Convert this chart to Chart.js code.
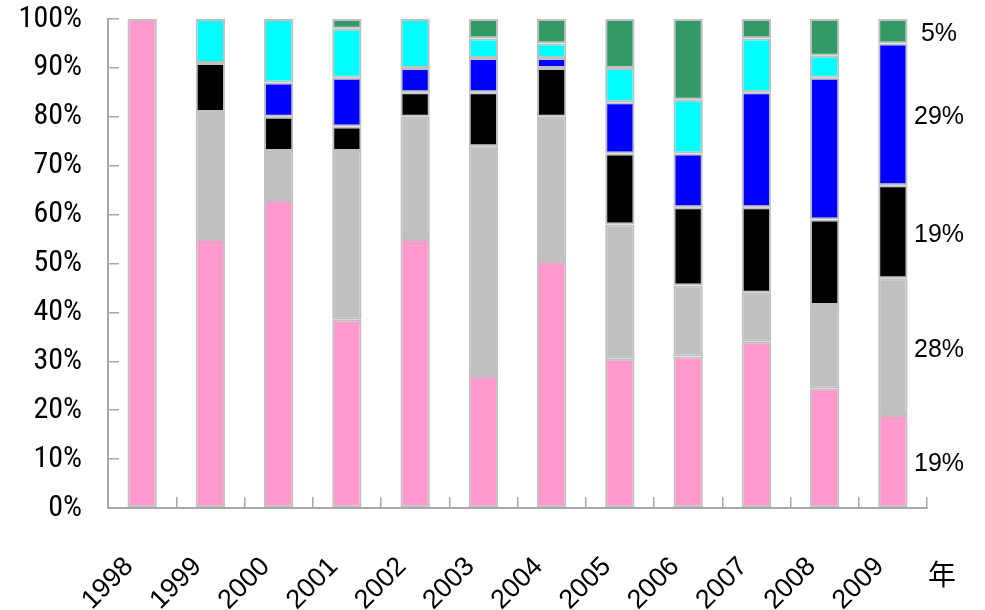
<!DOCTYPE html>
<html>
<head>
<meta charset="utf-8">
<script src="https://cdn.jsdelivr.net/npm/chart.js@4/dist/chart.umd.min.js"></script>
<style>
  html, body { margin: 0; padding: 0; background: #ffffff; }
  #wrap { width: 985px; height: 610px; }
</style>
</head>
<body>
<div id="wrap"><canvas id="c" width="985" height="610"></canvas></div>
<script>
// Years on the category axis
const years = ['1998','1999','2000','2001','2002','2003','2004','2005','2006','2007','2008','2009'];

// Share of each group per year (percent, stacked bottom to top)
const pinkShare  = [100, 55, 63, 38.5, 55, 27, 50.5, 30.5, 31, 34, 24.5, 19];
const grayShare  = [0,   26, 10, 34.5, 25, 47, 29.5, 27.5, 14.5, 10, 17, 28];
const blackShare = [0,   10, 7,  5,    5,  11, 10,   14.5, 16, 17.5, 17.5, 19];
const blueShare  = [0,   0,  7,  10,   5,  7,  2,    10.5, 11, 23.5, 29, 29];
const cyanShare  = [0,   9,  13, 10,   10, 4,  3,    7,    11, 11, 4.5, 0];
const greenShare = [0,   0,  0,  2,    0,  4,  5,    10,   16.5, 4, 7.5, 5];

// Percent axis ticks
const percentTicks = [0, 10, 20, 30, 40, 50, 60, 70, 80, 90, 100];

const unitLabel = '年';

const series = [
  { values: pinkShare,  color: '#ff99cc' },
  { values: grayShare,  color: '#c0c0c0' },
  { values: blackShare, color: '#000000' },
  { values: blueShare,  color: '#0000ff' },
  { values: cyanShare,  color: '#00ffff' },
  { values: greenShare, color: '#339966' }
];

const axisGray = '#a8a8a8';

// Writes the final year's shares beside its bar, plus the unit under the axis
const sideLabels = {
  id: 'sideLabels',
  afterDraw(chart) {
    const ctx = chart.ctx;
    const area = chart.chartArea;
    const last = years.length - 1;
    ctx.save();
    ctx.fillStyle = '#000000';
    ctx.font = '25px "Liberation Sans", Arial, sans-serif';
    ctx.textAlign = 'center';
    ctx.textBaseline = 'middle';
    chart.data.datasets.forEach((ds, i) => {
      const v = ds.data[last];
      if (!v) return;
      const el = chart.getDatasetMeta(i).data[last];
      const cy = (el.y + el.base) / 2;
      ctx.fillText(v + '%', area.right + 12, cy + 3);
    });
    ctx.font = '28px "Noto Sans CJK JP", sans-serif';
    ctx.fillText(unitLabel, area.right + 15, area.bottom + 66);
    ctx.restore();
  }
};

new Chart(document.getElementById('c'), {
  type: 'bar',
  data: {
    labels: years,
    datasets: series.map(s => ({
      data: s.values,
      backgroundColor: s.color,
      borderColor: '#c0c0c0',
      borderWidth: 2,
      borderSkipped: false,
      categoryPercentage: 1,
      barPercentage: 0.43
    }))
  },
  options: {
    responsive: false,
    animation: false,
    devicePixelRatio: 1,
    layout: { padding: { top: 19, right: 58, bottom: 0, left: 0 } },
    plugins: { legend: { display: false }, tooltip: { enabled: false } },
    scales: {
      x: {
        stacked: true,
        afterFit(scale) { scale.height = 102; },
        border: { display: true, color: axisGray, width: 2 },
        grid: { drawOnChartArea: false, offset: true, color: axisGray, lineWidth: 1.5, tickLength: -11 },
        ticks: {
          color: '#000000',
          font: { family: '"Liberation Sans", Arial, sans-serif', size: 27 },
          minRotation: 45,
          maxRotation: 45,
          padding: 54,
          labelOffset: -13
        }
      },
      y: {
        stacked: true,
        min: 0,
        max: 100,
        afterFit(scale) {
          scale.width = 108;
          scale.paddingTop = 12;
          scale.paddingBottom = 12;
        },
        afterBuildTicks(scale) { scale.ticks = percentTicks.map(v => ({ value: v })); },
        border: { display: true, color: axisGray, width: 2 },
        grid: { drawOnChartArea: false, color: axisGray, lineWidth: 1.5, tickLength: -11 },
        ticks: {
          color: '#000000',
          font: { family: '"Roboto Condensed", "DejaVu Sans Condensed", sans-serif', size: 30 },
          padding: 37,
          callback: v => v + '%'
        }
      }
    }
  },
  plugins: [sideLabels]
});
</script>
</body>
</html>
